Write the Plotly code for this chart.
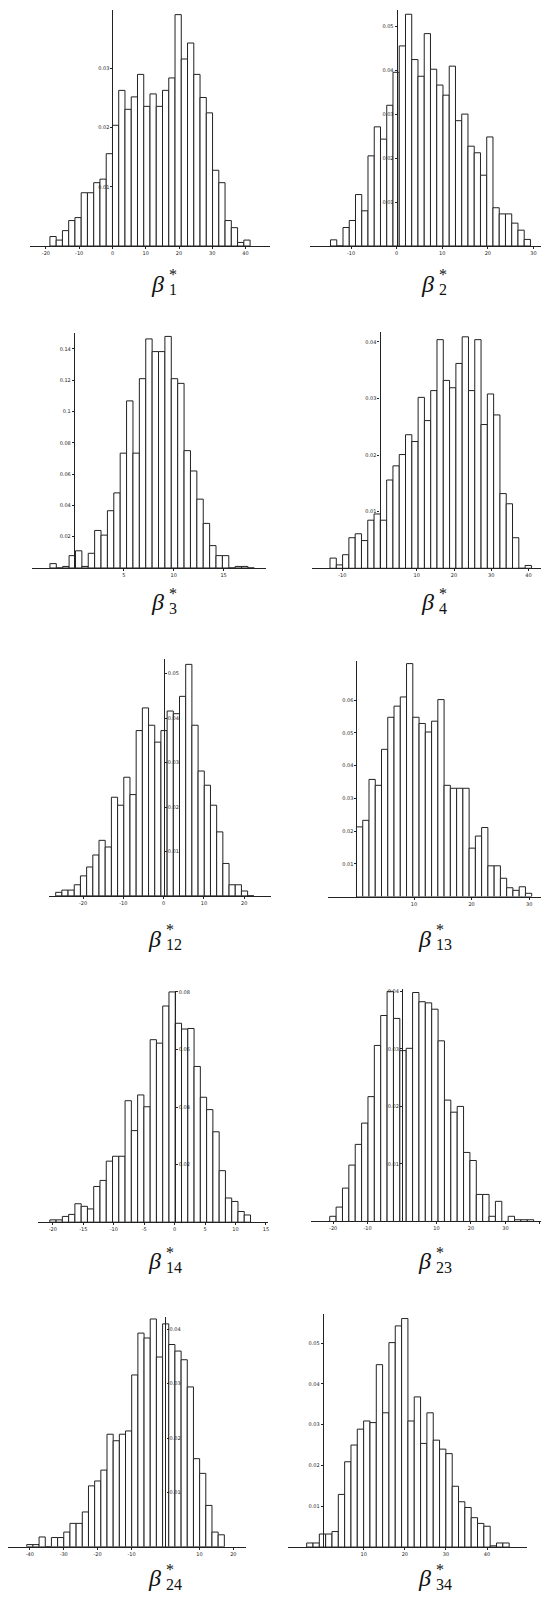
import plotly.graph_objects as go

W, H = 550, 1600          # browser window
OFF = 8                   # default page (body) margin around the plot div
FW, FH = W - 2 * OFF, H - 2 * OFF

# ---------------- data ----------------
panel_names = ["1", "2", "3", "4", "12", "13", "14", "23", "24", "34"]

# histogram bins: (first left edge, bin width)
bins_b1 = (-18.8, 1.88)
bins_b2 = (-14.5, 1.37)
bins_b3 = (-2.4, 0.64)
bins_b4 = (-13.3, 1.69)
bins_b12 = (-26.8, 1.537)
bins_b13 = (0.0, 1.087)
bins_b14 = (-20.5, 1.03)
bins_b23 = (-21.0, 1.85)
bins_b24 = (-40.9, 1.82)
bins_b34 = (-3.9, 1.54)

# bar heights (density)
h_b1 = [0.0016, 0.0010, 0.0026, 0.0043, 0.0048, 0.0090, 0.0090, 0.0107, 0.0113, 0.0156,
        0.0204, 0.0263, 0.0231, 0.0252, 0.0290, 0.0236, 0.0257, 0.0236, 0.0263, 0.0284,
        0.0391, 0.0316, 0.0343, 0.0290, 0.0251, 0.0225, 0.0128, 0.0107, 0.0043, 0.0031,
        0.0006, 0.0010]
h_b2 = [0.0014, 0.0, 0.0042, 0.0058, 0.0117, 0.0080, 0.0205, 0.0271, 0.0243, 0.0320,
        0.0395, 0.0455, 0.0527, 0.0424, 0.0386, 0.0483, 0.0402, 0.0366, 0.0343, 0.0409,
        0.0285, 0.0300, 0.0227, 0.0212, 0.0161, 0.0248, 0.0087, 0.0073, 0.0073, 0.0052,
        0.0036, 0.0015]
h_b3 = [0.0028, 0.0, 0.0010, 0.0079, 0.0110, 0.0010, 0.0094, 0.0240, 0.0210, 0.0366,
        0.0480, 0.0734, 0.1068, 0.0734, 0.1210, 0.1464, 0.1383, 0.1383, 0.1480, 0.1210,
        0.1180, 0.0750, 0.0620, 0.0440, 0.0285, 0.0143, 0.0079, 0.0079, 0.0, 0.0010,
        0.0010, 0.0]
h_b4 = [0.0018, 0.0006, 0.0024, 0.0054, 0.0061, 0.0049, 0.0085, 0.0096, 0.0085, 0.0156,
        0.0181, 0.0201, 0.0236, 0.0224, 0.0302, 0.0261, 0.0314, 0.0404, 0.0332, 0.0319,
        0.0362, 0.0409, 0.0314, 0.0404, 0.0254, 0.0308, 0.0271, 0.0132, 0.0114, 0.0054,
        0.0, 0.0005]
h_b12 = [0.0008, 0.0013, 0.0013, 0.0025, 0.0045, 0.0065, 0.0092, 0.0125, 0.0110, 0.0222,
         0.0204, 0.0267, 0.0228, 0.0372, 0.0423, 0.0384, 0.0346, 0.0372, 0.0416, 0.0410,
         0.0449, 0.0521, 0.0384, 0.0281, 0.0249, 0.0204, 0.0144, 0.0073, 0.0025, 0.0025,
         0.0011, 0.0]
h_b13 = [0.0213, 0.0233, 0.0358, 0.0340, 0.0450, 0.0548, 0.0582, 0.0610, 0.0712, 0.0548,
         0.0529, 0.0503, 0.0536, 0.0602, 0.0340, 0.0331, 0.0331, 0.0331, 0.0148, 0.0185,
         0.0211, 0.0094, 0.0094, 0.0056, 0.0027, 0.0019, 0.0030, 0.0010]
h_b14 = [0.0008, 0.0008, 0.0020, 0.0027, 0.0064, 0.0055, 0.0046, 0.0124, 0.0145, 0.0212,
         0.0229, 0.0229, 0.0422, 0.0318, 0.0442, 0.0401, 0.0634, 0.0622, 0.0751, 0.0800,
         0.0691, 0.0671, 0.0673, 0.0541, 0.0434, 0.0391, 0.0314, 0.0179, 0.0084, 0.0072,
         0.0037, 0.0025]
h_b23 = [0.0009, 0.0025, 0.0058, 0.0098, 0.0134, 0.0171, 0.0217, 0.0306, 0.0358, 0.0400,
         0.0353, 0.0297, 0.0301, 0.0398, 0.0382, 0.0380, 0.0369, 0.0314, 0.0211, 0.0190,
         0.0200, 0.0120, 0.0106, 0.0047, 0.0047, 0.0009, 0.0035, 0.0, 0.0009, 0.0003,
         0.0003, 0.0003]
h_b24 = [0.0004, 0.0004, 0.0018, 0.0, 0.0017, 0.0017, 0.0027, 0.0043, 0.0043, 0.0064,
         0.0112, 0.0121, 0.0141, 0.0207, 0.0195, 0.0207, 0.0213, 0.0316, 0.0393, 0.0384,
         0.0419, 0.0349, 0.0410, 0.0372, 0.0360, 0.0344, 0.0294, 0.0162, 0.0135, 0.0076,
         0.0027, 0.0022]
h_b34 = [0.0010, 0.0010, 0.0032, 0.0032, 0.0038, 0.0129, 0.0209, 0.0250, 0.0289, 0.0309,
         0.0305, 0.0447, 0.0329, 0.0501, 0.0542, 0.0560, 0.0309, 0.0368, 0.0254, 0.0329,
         0.0262, 0.0240, 0.0229, 0.0149, 0.0111, 0.0097, 0.0072, 0.0058, 0.0051, 0.0003,
         0.0010, 0.0010]

# tick values
xt_b1 = [-20, -10, 0, 10, 20, 30, 40]
xt_b2 = [-10, 0, 10, 20, 30]
xt_b3 = [5, 10, 15]
xt_b4 = [-10, 10, 20, 30, 40]
xt_b12 = [-20, -10, 0, 10, 20]
xt_b13 = [10, 20, 30]
xt_b14 = [-20, -15, -10, -5, 0, 5, 10, 15]
xt_b23 = [-20, -10, 10, 20, 30, 40]
xt_b24 = [-40, -30, -20, -10, 10, 20]
xt_b34 = [10, 20, 30, 40]

yt_b1 = [0.01, 0.02, 0.03]
yt_b2 = [0.01, 0.02, 0.03, 0.04, 0.05]
yt_b3 = [0.02, 0.04, 0.06, 0.08, 0.1, 0.12, 0.14]
yt_b4 = [0.01, 0.02, 0.03, 0.04]
yt_b12 = [0.01, 0.02, 0.03, 0.04, 0.05]
yt_b13 = [0.01, 0.02, 0.03, 0.04, 0.05, 0.06]
yt_b14 = [0.02, 0.04, 0.06, 0.08]
yt_b23 = [0.01, 0.02, 0.03, 0.04]
yt_b24 = [0.01, 0.02, 0.03, 0.04]
yt_b34 = [0.01, 0.02, 0.03, 0.04, 0.05]

bins_all = [bins_b1, bins_b2, bins_b3, bins_b4, bins_b12, bins_b13, bins_b14, bins_b23, bins_b24, bins_b34]
heights_all = [h_b1, h_b2, h_b3, h_b4, h_b12, h_b13, h_b14, h_b23, h_b24, h_b34]
xticks_all = [xt_b1, xt_b2, xt_b3, xt_b4, xt_b12, xt_b13, xt_b14, xt_b23, xt_b24, xt_b34]
yticks_all = [yt_b1, yt_b2, yt_b3, yt_b4, yt_b12, yt_b13, yt_b14, yt_b23, yt_b24, yt_b34]

# ---------------- layout geometry (page pixels) ----------------
geom = [
    dict(l=30, r=270, xr=(-24.8, 47.2), top=7.3, base=244.3, ymax=0.0400, side="left", lx=166, ly=282),
    dict(l=311, r=550, xr=(-18.9, 33.4), top=8.3, base=244.3, ymax=0.0536, side="left", lx=437, ly=282),
    dict(l=31.7, r=266.7, xr=(-4.23, 19.27), top=331.7, base=566.7, ymax=0.150, side="left", lx=166, ly=601),
    dict(l=312.7, r=550, xr=(-18.1, 45.5), top=330.7, base=567, ymax=0.0417, side="left", lx=437, ly=601),
    dict(l=49.3, r=271.7, xr=(-28.4, 26.7), top=658.3, base=895, ymax=0.0532, side="right", lx=163, ly=938),
    dict(l=328.3, r=541.7, xr=(-5.0, 32.0), top=659.8, base=895.7, ymax=0.0720, side="left", lx=434, ly=938),
    dict(l=38.3, r=268.3, xr=(-22.4, 15.3), top=990, base=1221.7, ymax=0.0804, side="right", lx=163, ly=1261),
    dict(l=311.7, r=545, xr=(-26.4, 41.2), top=988.3, base=1221, ymax=0.0404, side="left", lx=434, ly=1261),
    dict(l=6.7, r=246.7, xr=(-46.8, 23.8), top=1317, base=1546.7, ymax=0.0422, side="right", lx=163, ly=1578),
    dict(l=288.3, r=528.3, xr=(-8.5, 49.8), top=1313.3, base=1547, ymax=0.0572, side="left", lx=434, ly=1578),
]


def px_x(X):
    return min(1.0, max(0.0, (X - OFF) / FW))


def px_y(Y):
    return min(1.0, max(0.0, 1 - (Y - OFF) / FH))


INK = "#222222"
TICKFONT = dict(family="DejaVu Sans", size=5, color="#222222")
LABELFONT = "Liberation Serif"

fig = go.Figure()
layout = dict(
    width=FW, height=FH,
    margin=dict(l=0, r=0, t=0, b=0),
    paper_bgcolor="white", plot_bgcolor="rgba(0,0,0,0)",
    showlegend=False,
)
annotations = []

for k in range(len(panel_names)):
    idx = k + 1
    xa = "x" if idx == 1 else f"x{idx}"
    ya = "y" if idx == 1 else f"y{idx}"
    start, width = bins_all[k]
    hs = heights_all[k]
    xs = [start + width * (i + 0.5) for i in range(len(hs))]
    fig.add_trace(go.Bar(
        x=xs, y=hs, width=width, xaxis=xa, yaxis=ya,
        marker=dict(color="white", line=dict(color=INK, width=1)),
        hoverinfo="skip", showlegend=False,
    ))
    g = geom[k]
    l, r = g["l"], g["r"]
    xr0, xr1 = g["xr"]
    ppu = (r - l) / (xr1 - xr0)
    # keep the plotting area inside the drawable page area
    if l < OFF:
        xr0 += (OFF - l) / ppu
        l = OFF
    if r > W - OFF:
        xr1 -= (r - (W - OFF)) / ppu
        r = W - OFF
    top, base, ymax = g["top"], g["base"], g["ymax"]
    ppy = (base - top) / ymax
    if top < OFF:
        ymax -= (OFF - top) / ppy
        top = OFF
    xdom = [px_x(l), px_x(r)]
    ydom = [px_y(base), px_y(top)]
    x0frac = xdom[0] + (0 - xr0) / (xr1 - xr0) * (xdom[1] - xdom[0])
    xt = xticks_all[k]
    yt = yticks_all[k]
    layout[f"xaxis{'' if idx == 1 else idx}"] = dict(
        domain=xdom, range=[xr0, xr1], anchor=ya,
        showline=True, linecolor=INK, linewidth=1,
        ticks="outside", ticklen=2, tickwidth=1, tickcolor=INK,
        tickvals=xt, ticktext=[f"{v:g}" for v in xt], tickfont=TICKFONT,
        showgrid=False, zeroline=False, fixedrange=True,
    )
    layout[f"yaxis{'' if idx == 1 else idx}"] = dict(
        domain=ydom, range=[0, ymax], anchor="free", position=x0frac,
        side=g["side"], showline=True, linecolor=INK, linewidth=1.2,
        ticks="outside", ticklen=2, tickwidth=1, tickcolor=INK,
        tickvals=yt, ticktext=[f"{v:g}" for v in yt], tickfont=TICKFONT,
        showgrid=False, zeroline=False, fixedrange=True,
    )
    cx, cy = g["lx"], g["ly"]
    annotations.append(dict(
        text="<i>β</i>", x=px_x(cx), y=px_y(cy), xref="paper", yref="paper",
        xanchor="right", yanchor="middle", showarrow=False,
        font=dict(family=LABELFONT, size=24, color="#111111"),
    ))
    annotations.append(dict(
        text=panel_names[k], x=px_x(cx + 1), y=px_y(cy + 6), xref="paper", yref="paper",
        xanchor="left", yanchor="middle", showarrow=False,
        font=dict(family=LABELFONT, size=16, color="#111111"),
    ))
    annotations.append(dict(
        text="*", x=px_x(cx + 1), y=px_y(cy - 9), xref="paper", yref="paper",
        xanchor="left", yanchor="middle", showarrow=False,
        font=dict(family=LABELFONT, size=16, color="#111111"),
    ))

layout["annotations"] = annotations
fig.update_layout(**layout)
fig.write_html("out.html")
